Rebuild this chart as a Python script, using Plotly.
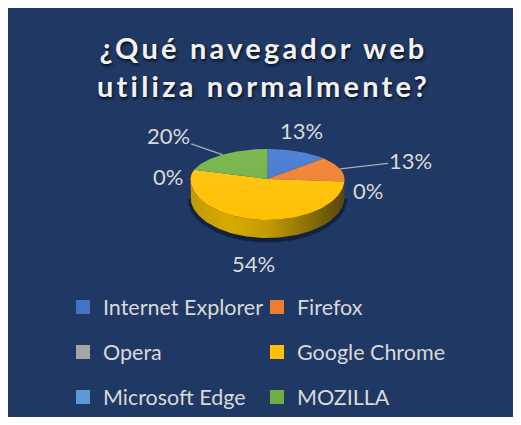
import math
import plotly.graph_objects as go

# ---------------- data ----------------
browsers = ["Internet Explorer", "Firefox", "Opera", "Google Chrome", "Microsoft Edge", "MOZILLA"]
shares = [13, 13, 0, 54, 0, 20]
title_lines = ["¿Qué navegador web", "utiliza normalmente?"]

# ---------------- styles ----------------
# the page body adds an 8px margin, so the figure is sized to fit the 521x425 window
W, H = 513, 409
OFF = 8  # page offset of the figure
PANEL = "#203864"
top_colors = ["#4472C4", "#ED7D31", "#A5A5A5", "#FFC000", "#5B9BD5", "#70AD47"]
top_light = ["#5283D6", "#F48A3E", "#B5B5B5", "#FFC81F", "#6AA8E0", "#7DBA52"]
side_colors = ["#2F528F", "#A9561E", "#7B7B7B", None, "#41719C", "#4E7A31"]
chrome_side_scale = [[0.0, "#C29A00"], [0.25, "#D6AB00"], [0.5, "#C49C00"],
                     [0.75, "#8E7204"], [1.0, "#584610"]]
TXT = "#D9D9D9"
FONT = "Lato"

# geometry of the tilted disc (page pixel units == axis units)
CX, CY = 267.5, 179.0
RX = 77.0
RY_BACK, RY_FRONT = 30.0, 41.0
DEPTH = 18.0

# label placement relative to each slice's rim point (px); arrows where Excel used leader lines
label_style = [
    dict(xshift=3, yshift=21),
    dict(ax=71, ay=-8),
    dict(xshift=24, yshift=-9),
    dict(xshift=0, yshift=-44),
    dict(xshift=-26, yshift=-7),
    dict(ax=-54, ay=-19),
]


def rim(t_deg, dy=0.0, grow=0.0):
    t = math.radians(t_deg)
    s, c = math.sin(t), math.cos(t)
    ry = RY_BACK if c > 0 else RY_FRONT
    return CX + (RX + grow) * s, CY - (ry + grow) * c + dy


def arc(a0, a1, n=None, dy=0.0, grow=0.0):
    if n is None:
        n = max(2, int(abs(a1 - a0) / 1.5) + 2)
    pts = [rim(a0 + (a1 - a0) * i / (n - 1), dy, grow) for i in range(n)]
    return [p[0] for p in pts], [p[1] for p in pts]


total = sum(shares)
bounds = []
acc = 0.0
for v in shares:
    a0 = acc / total * 360.0
    acc += v
    a1 = acc / total * 360.0
    bounds.append((a0, a1))

fig = go.Figure()

# soft shadow under the disc
sx, sy = arc(90, 270, dy=DEPTH + 2, grow=2.5)
fig.add_trace(go.Scatter(x=sx + [sx[0]], y=sy + [sy[0]], fill="toself", mode="lines",
                         line=dict(width=0), fillcolor="rgba(8,16,34,0.55)",
                         hoverinfo="skip", showlegend=False))

# side walls (front half only)
for i, (a0, a1) in enumerate(bounds):
    if shares[i] == 0:
        continue
    b0, b1 = max(a0, 90.0), min(a1, 270.0)
    if b1 <= b0:
        continue
    tx, ty = arc(b0, b1)
    bx, by = arc(b1, b0, dy=DEPTH)
    kw = {}
    if side_colors[i] is None:
        kw["fillgradient"] = dict(type="horizontal", colorscale=chrome_side_scale,
                                  start=CX - RX, stop=CX + RX)
    else:
        kw["fillcolor"] = side_colors[i]
    fig.add_trace(go.Scatter(x=tx + bx + [tx[0]], y=ty + by + [ty[0]], fill="toself",
                             mode="lines", line=dict(width=0), hoverinfo="skip",
                             showlegend=False, **kw))

# top faces
for i, (a0, a1) in enumerate(bounds):
    if shares[i] == 0:
        continue
    ax_, ay_ = arc(a0, a1)
    xs = [CX] + ax_ + [CX]
    ys = [CY] + ay_ + [CY]
    fig.add_trace(go.Scatter(
        x=xs, y=ys, fill="toself", mode="lines", line=dict(width=0),
        fillgradient=dict(type="vertical",
                          colorscale=[[0, top_light[i]], [1, top_colors[i]]],
                          start=CY - RY_BACK, stop=CY + RY_FRONT),
        name=browsers[i], hoverinfo="name", showlegend=False))

# legend entries (two per row, three rows)
legend_ids = ["legend", "legend", "legend2", "legend2", "legend3", "legend3"]
for i, b in enumerate(browsers):
    fig.add_trace(go.Scatter(x=[None], y=[None], mode="markers", name=b,
                             marker=dict(symbol="square", size=14, color=top_colors[i]),
                             legend=legend_ids[i], showlegend=True))

# data labels
for i, (a0, a1) in enumerate(bounds):
    px, py = rim((a0 + a1) / 2.0)
    st = label_style[i]
    ann = dict(x=px, y=py, xref="x", yref="y", text=f"{shares[i]}%",
               font=dict(family=FONT, size=22, color=TXT))
    if "ax" in st:
        ann.update(showarrow=True, arrowhead=0, arrowwidth=1.3, arrowcolor="#A6AEBD",
                   ax=st["ax"], ay=st["ay"], standoff=0)
    else:
        ann.update(showarrow=False, xshift=st["xshift"], yshift=st["yshift"])
    fig.add_annotation(**ann)

sp = '<span style="letter-spacing:3.2px">{}</span>'
title_text = "<br>".join(sp.format(t) for t in title_lines)

ML, MR, MT, MB = 0, 2, 0, 0
X0, X1 = OFF + ML, OFF + W - MR      # page x of plot area
Y0, Y1 = OFF + MT, OFF + H - MB      # page y of plot area


def py2paper(pyv):
    return (Y1 - pyv) / (Y1 - Y0)


def px2paper(pxv):
    return (pxv - X0) / (X1 - X0)


leg_common = dict(orientation="h", xanchor="left", yanchor="middle",
                  entrywidth=149, entrywidthmode="pixels",
                  bgcolor="rgba(0,0,0,0)", borderwidth=0,
                  font=dict(family=FONT, size=21.5, color=TXT),
                  itemsizing="trace", itemclick=False, itemdoubleclick=False)

fig.update_layout(
    width=W, height=H,
    margin=dict(l=ML, r=MR, t=MT, b=MB, pad=0, autoexpand=False),
    paper_bgcolor="white",
    plot_bgcolor=PANEL,
    title=dict(text=title_text, x=0.5, xref="paper", xanchor="center",
               y=1 - 51 / H, yref="container", yanchor="top",
               font=dict(family=FONT, size=29, color="#F2F2F2", weight="bold",
                         shadow="1px 2px 3px rgba(0,0,0,0.75)")),
    xaxis=dict(range=[X0, X1], visible=False, fixedrange=True),
    yaxis=dict(range=[Y1, Y0], visible=False, fixedrange=True),
    legend=dict(x=px2paper(63), y=py2paper(307), **leg_common),
    legend2=dict(x=px2paper(63), y=py2paper(352), **leg_common),
    legend3=dict(x=px2paper(63), y=py2paper(397), **leg_common),
    showlegend=True,
)

fig.write_html("out.html")
